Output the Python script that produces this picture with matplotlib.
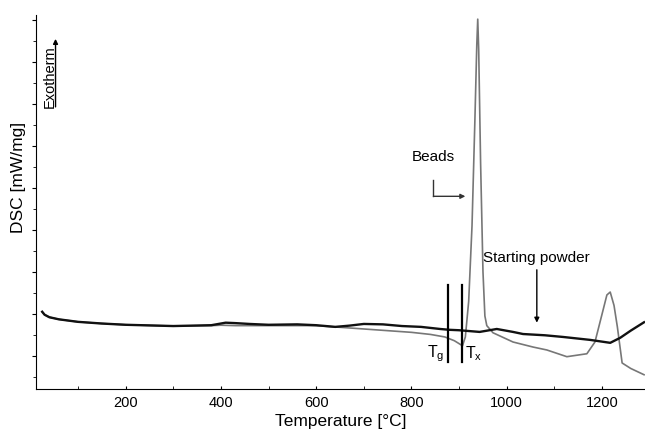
import numpy as np
import matplotlib
matplotlib.use("Agg")
import matplotlib.pyplot as plt
from matplotlib.ticker import MultipleLocator

plt.rcParams["font.family"] = ["Liberation Sans", "DejaVu Sans"]

# starting powder (black)
powder_t = [25, 30, 40, 60, 100, 150, 200, 300, 380, 395, 410, 430, 460, 500, 560, 600,
            640, 670, 700, 740, 780, 820, 860, 880, 900, 943, 979, 1013, 1034, 1080,
            1118, 1175, 1217, 1238, 1260, 1288]
powder_y = [1.05, 0.98, 0.92, 0.87, 0.81, 0.77, 0.74, 0.71, 0.73, 0.76, 0.79, 0.78, 0.76,
            0.74, 0.75, 0.73, 0.69, 0.72, 0.76, 0.75, 0.71, 0.69, 0.64, 0.62, 0.61, 0.57,
            0.64, 0.57, 0.52, 0.49, 0.45, 0.38, 0.31, 0.43, 0.60, 0.80]

# beads (gray)
beads_t = [25, 30, 40, 60, 100, 150, 200, 300, 380, 400, 430, 500, 600, 650, 700, 750,
           800, 840, 870, 890, 900, 907, 913, 920, 927, 933, 937, 939, 941, 945, 950, 954,
           958, 971, 1013, 1055, 1084, 1126, 1168, 1185, 1200, 1210, 1217, 1225, 1232,
           1242, 1260, 1288]
beads_y = [1.05, 0.98, 0.92, 0.87, 0.81, 0.77, 0.74, 0.71, 0.72, 0.73, 0.72, 0.72, 0.72,
           0.68, 0.64, 0.60, 0.56, 0.51, 0.45, 0.36, 0.29, 0.24, 0.45, 1.30, 3.10, 5.60,
           7.40, 8.02, 7.30, 4.60, 2.00, 0.95, 0.72, 0.55, 0.33, 0.21, 0.14, -0.02, 0.05,
           0.33, 1.00, 1.45, 1.52, 1.20, 0.69, -0.17, -0.30, -0.45]

tg, tx = 876, 907

fig = plt.figure(figsize=(6.45, 4.37), dpi=100)
ax = fig.add_axes([0.0558, 0.1098, 0.9442, 0.856])

ax.plot(beads_t, beads_y, color="#777777", lw=1.2)
ax.plot(powder_t, powder_y, color="#111111", lw=1.7)

ax.set_xlim(12, 1290)
ax.set_ylim(-0.79, 8.12)

ax.xaxis.set_major_locator(MultipleLocator(200))
ax.xaxis.set_minor_locator(MultipleLocator(100))
ax.yaxis.set_major_locator(MultipleLocator(1))
ax.yaxis.set_minor_locator(MultipleLocator(0.5))
ax.set_xticks([200, 400, 600, 800, 1000, 1200])
ax.set_yticklabels([])
ax.tick_params(axis="x", which="both", direction="in", length=2, labelsize=10.5, pad=5)
ax.tick_params(axis="y", which="major", direction="out", length=3)
ax.tick_params(axis="y", which="minor", direction="out", length=2)
for s in ("top", "right"):
    ax.spines[s].set_visible(False)

ax.set_xlabel("Temperature [°C]", fontsize=12.5, labelpad=3)
fig.text(0.028, 0.595, "DSC [mW/mg]", rotation=90, fontsize=12.5, ha="center", va="center")

# Tg / Tx markers
ax.plot([tg, tg], [-0.14, 1.69], color="black", lw=1.6)
ax.plot([tx, tx], [-0.14, 1.69], color="black", lw=1.6)
ax.text(tg - 7, 0.05, "T$_{\\mathregular{g}}$", fontsize=11.5, ha="right", va="center")
ax.text(tx + 6, 0.05, "T$_{\\mathregular{x}}$", fontsize=11.5, ha="left", va="center")

# Exotherm label with arrow
ax.text(40, 6.64, "Exotherm", rotation=90, fontsize=10.5, ha="center", va="center")
ax.annotate("", xy=(53, 7.55), xytext=(53, 5.93),
            arrowprops=dict(arrowstyle="-|>", color="black", lw=1, mutation_scale=7,
                            shrinkA=0, shrinkB=0))

# Beads
ax.text(845, 4.74, "Beads", fontsize=11, ha="center", va="center")
ax.plot([846, 846], [4.2, 3.8], color="#333333", lw=1)
ax.annotate("", xy=(913, 3.8), xytext=(846, 3.8),
            arrowprops=dict(arrowstyle="-|>", color="#333333", lw=1, mutation_scale=7,
                            shrinkA=0, shrinkB=0))

# Starting powder
ax.text(1062, 2.33, "Starting powder", fontsize=11, ha="center", va="center")
ax.annotate("", xy=(1063, 0.79), xytext=(1063, 2.05),
            arrowprops=dict(arrowstyle="-|>", color="black", lw=1, mutation_scale=7,
                            shrinkA=0, shrinkB=0))

fig.savefig("out.png", dpi=100)
